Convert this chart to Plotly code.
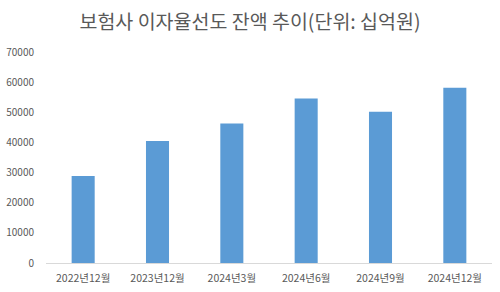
import plotly.graph_objects as go

categories = ["2022년12월", "2023년12월", "2024년3월", "2024년6월", "2024년9월", "2024년12월"]
values = [28900, 40500, 46300, 54600, 50200, 58100]
y_ticks = [0, 10000, 20000, 30000, 40000, 50000, 60000, 70000]

fig = go.Figure(go.Bar(
    x=categories, y=values,
    marker=dict(color="#5B9BD5", line=dict(width=0)),
    width=0.31,
))

fig.update_layout(
    width=500, height=292,
    margin=dict(l=46, r=8, t=52, b=29, autoexpand=False),
    paper_bgcolor="white", plot_bgcolor="white",
    font=dict(family="Noto Sans CJK KR", color="#595959", size=10),
    title=dict(text="보험사 이자율선도 잔액 추이(단위: 십억원)", x=0.5, xanchor="center",
               y=0.925, yanchor="middle",
               font=dict(size=19.5, color="#595959", family="Noto Sans CJK KR")),
    showlegend=False,
)
fig.update_xaxes(showline=True, linecolor="#D9D9D9", linewidth=1, showgrid=False, automargin=False,
                 ticks="", tickfont=dict(size=10.5, color="#595959"), ticklabelstandoff=5)
fig.update_yaxes(range=[0, 70000], tickvals=y_ticks, ticktext=[str(v) for v in y_ticks],
                 showgrid=False, zeroline=False, showline=False, ticks="", automargin=False,
                 tickfont=dict(size=10, color="#595959"), ticklabelstandoff=11)

fig.write_html("out.html")
